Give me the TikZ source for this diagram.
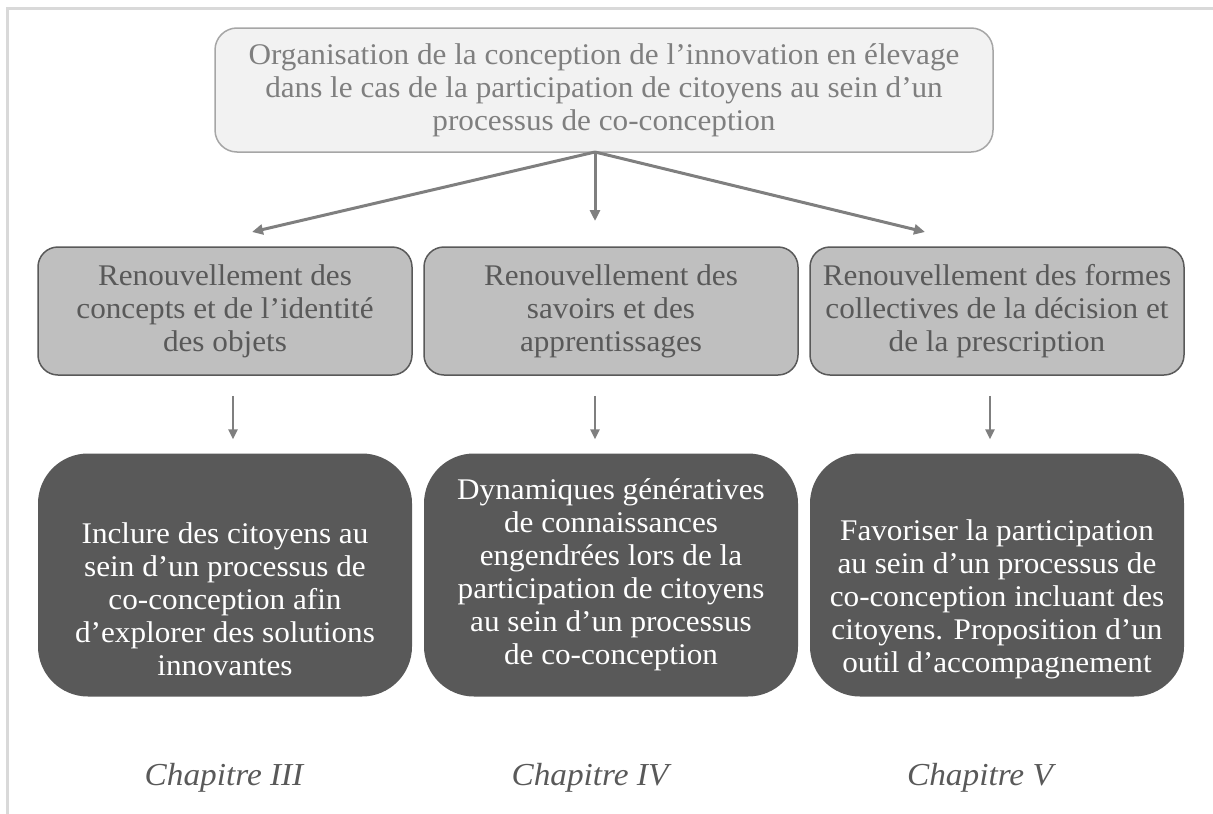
\documentclass[tikz,border=0pt]{standalone}
\usepackage{fontspec}
\setmainfont{Liberation Serif}[FakeStretch=1.04]
\usetikzlibrary{arrows.meta}

\definecolor{framegray}{HTML}{D9D9D9}
\definecolor{topfill}{HTML}{F2F2F2}
\definecolor{topline}{HTML}{A6A6A6}
\definecolor{toptext}{HTML}{7F7F7F}
\definecolor{midfill}{HTML}{BFBFBF}
\definecolor{darkgray}{HTML}{595959}
\definecolor{arrowgray}{HTML}{7F7F7F}

\tikzset{
  topbox/.style={draw=topline, fill=topfill, line width=1.5pt, rounded corners=22pt,
    text=toptext, align=center, minimum width=778pt, minimum height=124pt,
    font=\fontsize{30}{33}\selectfont},
  midbox/.style={draw=darkgray, fill=midfill, line width=1.5pt, rounded corners=20pt,
    text=darkgray, align=center, minimum width=374pt, minimum height=128pt,
    font=\fontsize{30}{33}\selectfont},
  darkbox/.style={fill=darkgray, rounded corners=50pt, text=white, align=center,
    minimum width=374pt, minimum height=243pt, font=\fontsize{30}{33}\selectfont},
  chaplabel/.style={text=darkgray, font=\fontsize{32}{36}\selectfont\itshape},
  bigarrow/.style={draw=arrowgray, line width=3pt, -{Triangle[length=11pt,width=10pt]}},
  smallarrow/.style={draw=arrowgray, line width=2.5pt, -{Triangle[length=10pt,width=9pt]}}
}
% strut that pushes a text block down in its box
\newcommand{\lowstrut}{\rule{0pt}{70pt}}

\begin{document}
\begin{tikzpicture}[x=1pt, y=-1pt]
    \useasboundingbox (0,0) rectangle (1213,814);

    % Frame
    \draw[framegray, line width=3pt] (7,814) -- (7,8) -- (1213,8);

    % Top box
    \node[topbox] (orga) at (604,90) {Organisation de la conception de l’innovation en élevage\\
      dans le cas de la participation de citoyens au sein d’un\\
      processus de co-conception};

    % Middle boxes
    \node[midbox] (concepts) at (225,311) {Renouvellement des\\concepts et de l’identité\\des objets};
    \node[midbox] (savoirs) at (611,311) {Renouvellement des\\savoirs et des\\apprentissages};
    \node[midbox] (formes) at (997,311) {Renouvellement des formes\\collectives de la décision et\\de la prescription};

    % Dark boxes
    \node[darkbox] (inclure) at (225,575) {\lowstrut Inclure des citoyens au\\sein d’un processus de\\
      co-conception afin\\d’explorer des solutions\\innovantes};
    \node[darkbox] (dynamiques) at (611,575) {Dynamiques génératives\\de connaissances\\
      engendrées lors de la\\participation de citoyens\\au sein d’un processus\\de co-conception};
    \node[darkbox] (favoriser) at (997,575) {\lowstrut Favoriser la participation\\au sein d’un processus de\\
      co-conception incluant des\\citoyens. Proposition d’un\\outil d’accompagnement};

    % Chapter labels
    \node[chaplabel] (chapIII) at (224,778) {Chapitre III};
    \node[chaplabel] (chapIV) at (590,778) {Chapitre IV};
    \node[chaplabel] (chapV) at (980,778) {Chapitre V};

    % Arrows from the top box
    \coordinate (root) at (595,152);
    \coordinate (tipL) at (252,232);
    \coordinate (tipM) at (595,221);
    \coordinate (tipR) at (925,232);
    \draw[bigarrow] (root) -- (tipL);
    \draw[bigarrow] (root) -- (tipM);
    \draw[bigarrow] (root) -- (tipR);

    % Arrows to the dark boxes
    \draw[smallarrow] ([xshift=8pt,yshift=-20pt]concepts.south) -- ([xshift=8pt,yshift=14pt]inclure.north);
    \draw[smallarrow] ([xshift=-16pt,yshift=-20pt]savoirs.south) -- ([xshift=-16pt,yshift=14pt]dynamiques.north);
    \draw[smallarrow] ([xshift=-7pt,yshift=-20pt]formes.south) -- ([xshift=-7pt,yshift=14pt]favoriser.north);
\end{tikzpicture}
\end{document}
